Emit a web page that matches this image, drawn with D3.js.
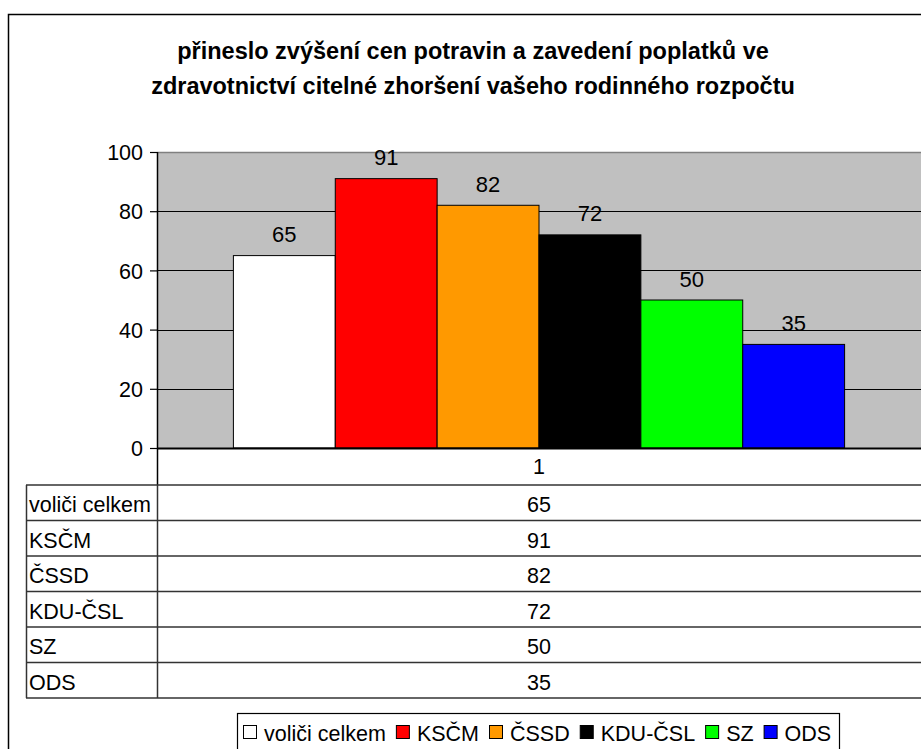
<!DOCTYPE html>
<html>
<head>
<meta charset="utf-8">
<script src="https://cdn.jsdelivr.net/npm/d3@7"></script>
<style>
  html, body { margin: 0; padding: 0; background: #fff; }
  svg { display: block; }
  text { font-family: "Liberation Sans", Arial, sans-serif; fill: #000; }
</style>
</head>
<body>
<svg id="chart" width="921" height="749"></svg>
<script>
const titleLines = ["přineslo zvýšení cen potravin a zavedení poplatků ve",
                    "zdravotnictví citelné zhoršení vašeho rodinného rozpočtu"];
const categories = ["1"];
const seriesNames = ["voliči celkem", "KSČM", "ČSSD", "KDU-ČSL", "SZ", "ODS"];
const seriesValues = [65, 91, 82, 72, 50, 35];
const seriesColors = ["#FFFFFF", "#FF0000", "#FF9900", "#000000", "#00FF00", "#0000FF"];
const yTicks = [0, 20, 40, 60, 80, 100];

const svg = d3.select("#chart");
const FS = 21.5;

// outer chart border
svg.append("rect").attr("x", 8.5).attr("y", 14.5).attr("width", 940).attr("height", 760)
  .attr("fill", "#fff").attr("stroke", "#000").attr("stroke-width", 1.5);

// title
const title = svg.append("text").attr("text-anchor", "middle")
  .attr("font-weight", "bold").attr("font-size", 23.5);
titleLines.forEach((l, i) => title.append("tspan").attr("x", 473).attr("y", 59 + i * 34.5).text(l));

// plot
const plot = { left: 157, right: 921, top: 152, bottom: 448 };
const y = d3.scaleLinear().domain([0, 100]).range([plot.bottom, plot.top]);
const x0 = d3.scaleBand().domain(categories).range([plot.left, plot.right]).paddingInner(0).paddingOuter(0);
const bw = x0.bandwidth();
const gapFrac = 1.5 / (seriesNames.length + 1.5); // Excel gap width 150%
const x1 = d3.scaleBand().domain(seriesNames)
  .range([bw * gapFrac / 2, bw * (1 - gapFrac / 2)]).paddingInner(0).paddingOuter(0);

svg.append("rect").attr("x", plot.left).attr("y", plot.top)
  .attr("width", plot.right - plot.left).attr("height", plot.bottom - plot.top)
  .attr("fill", "#C0C0C0");
svg.append("line").attr("x1", plot.left).attr("x2", plot.right)
  .attr("y1", plot.top + 0.5).attr("y2", plot.top + 0.5).attr("stroke", "#808080").attr("stroke-width", 1.5);

// gridlines
svg.append("g").selectAll("line").data(yTicks.filter(d => d > 0 && d < 100)).join("line")
  .attr("x1", plot.left).attr("x2", plot.right)
  .attr("y1", d => Math.round(y(d)) + 0.5).attr("y2", d => Math.round(y(d)) + 0.5)
  .attr("stroke", "#000").attr("stroke-width", 1);

// bars
const g = svg.append("g");
categories.forEach(c => {
  const gx = x0(c);
  g.selectAll("rect.bar").data(seriesValues).join("rect").attr("class", "bar")
    .attr("x", (d, i) => gx + x1(seriesNames[i]))
    .attr("y", d => y(d))
    .attr("width", x1.bandwidth())
    .attr("height", d => y(0) - y(d))
    .attr("fill", (d, i) => seriesColors[i])
    .attr("stroke", "#000").attr("stroke-width", 1);
  g.selectAll("text.lab").data(seriesValues).join("text").attr("class", "lab")
    .attr("x", (d, i) => gx + x1(seriesNames[i]) + x1.bandwidth() / 2)
    .attr("y", d => y(d) - 13.5)
    .attr("text-anchor", "middle").attr("font-size", 22)
    .text(d => d);
});

// y axis
const yAxis = d3.axisLeft(y).tickValues(yTicks).tickSize(7).tickPadding(7).tickFormat(d3.format("d"));
const ya = svg.append("g").attr("transform", `translate(${plot.left},0)`).call(yAxis);
ya.select(".domain").remove();
ya.selectAll(".tick line").attr("stroke", "#000").attr("stroke-width", 1.2);
ya.selectAll(".tick text").attr("font-size", FS).attr("font-family", "Liberation Sans, Arial, sans-serif")
  .attr("fill", "#000").attr("dy", "0.36em");
svg.append("line").attr("x1", plot.left + 0.5).attr("x2", plot.left + 0.5)
  .attr("y1", plot.top).attr("y2", 485).attr("stroke", "#000").attr("stroke-width", 1.5);
svg.append("line").attr("x1", plot.left).attr("x2", plot.right)
  .attr("y1", plot.bottom + 0.5).attr("y2", plot.bottom + 0.5).attr("stroke", "#000").attr("stroke-width", 2);

// category label
svg.selectAll("text.cat").data(categories).join("text").attr("class", "cat")
  .attr("x", d => x0(d) + bw / 2).attr("y", 474).attr("text-anchor", "middle")
  .attr("font-size", FS).text(d => d);

// data table
const rowTop = 485, rowH = (698 - 485) / seriesNames.length;
const tbl = svg.append("g");
d3.range(seriesNames.length + 1).forEach(i => {
  tbl.append("line").attr("x1", 26).attr("x2", plot.right)
    .attr("y1", rowTop + i * rowH).attr("y2", rowTop + i * rowH)
    .attr("stroke", "#333").attr("stroke-width", 1.5);
});
tbl.append("line").attr("x1", 26.5).attr("x2", 26.5).attr("y1", rowTop).attr("y2", 698)
  .attr("stroke", "#333").attr("stroke-width", 1.5);
tbl.append("line").attr("x1", plot.left + 0.5).attr("x2", plot.left + 0.5).attr("y1", rowTop).attr("y2", 698)
  .attr("stroke", "#333").attr("stroke-width", 1.5);
tbl.selectAll("text.rn").data(seriesNames).join("text").attr("class", "rn")
  .attr("x", 29).attr("y", (d, i) => rowTop + i * rowH + rowH / 2 + 9.5)
  .attr("font-size", FS).text(d => d);
categories.forEach(c => {
  tbl.selectAll("text.rv").data(seriesValues).join("text").attr("class", "rv")
    .attr("x", x0(c) + bw / 2).attr("y", (d, i) => rowTop + i * rowH + rowH / 2 + 9.5)
    .attr("text-anchor", "middle").attr("font-size", FS).text(d => d);
});

// legend
const leg = svg.append("g");
leg.append("rect").attr("x", 237.5).attr("y", 713.5).attr("width", 602).attr("height", 50)
  .attr("fill", "#fff").attr("stroke", "#000").attr("stroke-width", 1.2);
let lx = 243;
seriesNames.forEach((n, i) => {
  leg.append("rect").attr("x", lx + 0.5).attr("y", 725.5).attr("width", 13).attr("height", 13)
    .attr("fill", seriesColors[i]).attr("stroke", "#000").attr("stroke-width", 1);
  const t = leg.append("text").attr("x", lx + 21).attr("y", 741).attr("font-size", FS).text(n);
  lx += 21 + t.node().getComputedTextLength() + 10;
});
</script>
</body>
</html>
